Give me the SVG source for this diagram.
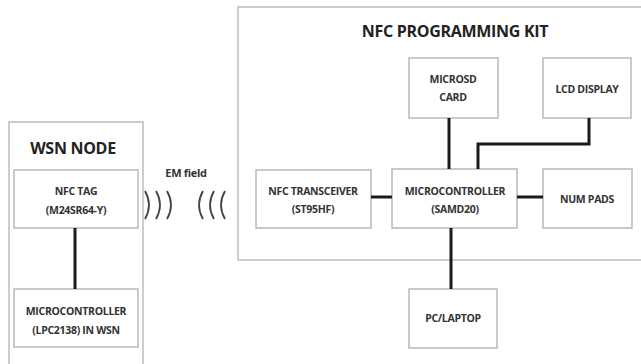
<svg xmlns="http://www.w3.org/2000/svg" width="641" height="364" viewBox="0 0 641 364">
<style>
.box{fill:#fff;stroke:#b8b8b8;stroke-width:1.5}
.frame{fill:#fff;stroke:#bdbdbd;stroke-width:1.5}
.t{font-family:"Open Sans",sans-serif;font-weight:700;font-size:10.5px;letter-spacing:-0.3px;fill:#333;text-anchor:middle}
.title{font-family:"Open Sans",sans-serif;font-weight:700;font-size:16px;letter-spacing:-0.3px;fill:#222;text-anchor:middle}
.c{stroke:#1a1a1a;stroke-width:3;fill:none}
.w{stroke:#444;stroke-width:1.8;fill:none}
</style>
<rect width="641" height="364" fill="#fff"/>
<g id="wsn-node">
<rect class="frame" x="9" y="122" width="134" height="250"/>
<text class="title" x="73" y="154">WSN NODE</text>
</g>
<g id="nfc-kit">
<rect class="frame" x="238" y="7" width="410" height="253"/>
<text class="title" x="455" y="37">NFC PROGRAMMING KIT</text>
</g>
<g id="nfc-tag">
<rect class="box" x="14" y="170" width="124" height="58"/>
<text class="t" x="76" y="195">NFC TAG</text>
<text class="t" x="76" y="214">(M24SR64-Y)</text>
</g>
<g id="mcu-wsn">
<rect class="box" x="14" y="289" width="124" height="58"/>
<text class="t" x="76" y="315">MICROCONTROLLER</text>
<text class="t" x="76" y="334">(LPC2138) IN WSN</text>
</g>
<g id="em-field">
<text class="t" x="186" y="177" style="font-size:11px">EM field</text>
<path class="w" d="M145 191 Q153 205 145 219 M156 191 Q164 205 156 219 M167 191 Q175 205 167 219"/>
<path class="w" d="M203 191 Q195 205 203 219 M214 191 Q206 205 214 219 M225 191 Q217 205 225 219"/>
</g>
<g id="microsd">
<rect class="box" x="409" y="58" width="89" height="60"/>
<text class="t" x="453" y="83">MICROSD</text>
<text class="t" x="453" y="101">CARD</text>
</g>
<g id="lcd">
<rect class="box" x="543" y="58" width="88" height="60"/>
<text class="t" x="587" y="93">LCD DISPLAY</text>
</g>
<g id="nfc-transceiver">
<rect class="box" x="256" y="170" width="115" height="58"/>
<text class="t" x="313" y="195">NFC TRANSCEIVER</text>
<text class="t" x="313" y="213">(ST95HF)</text>
</g>
<g id="mcu-kit">
<rect class="box" x="392" y="169" width="125" height="59"/>
<text class="t" x="455" y="195">MICROCONTROLLER</text>
<text class="t" x="455" y="213">(SAMD20)</text>
</g>
<g id="numpads">
<rect class="box" x="543" y="169" width="89" height="59"/>
<text class="t" x="587" y="203">NUM PADS</text>
</g>
<g id="pc">
<rect class="box" x="409" y="289" width="88" height="59"/>
<text class="t" x="453" y="322">PC/LAPTOP</text>
</g>
<g id="connectors">
<line class="c" x1="75" y1="228" x2="75" y2="289"/>
<line class="c" x1="449" y1="118" x2="449" y2="169"/>
<polyline class="c" points="589,118 589,144 478,144 478,169"/>
<line class="c" x1="371" y1="197" x2="392" y2="197"/>
<line class="c" x1="517" y1="197" x2="543" y2="197"/>
<line class="c" x1="451" y1="228" x2="451" y2="289"/>
</g>
</svg>
